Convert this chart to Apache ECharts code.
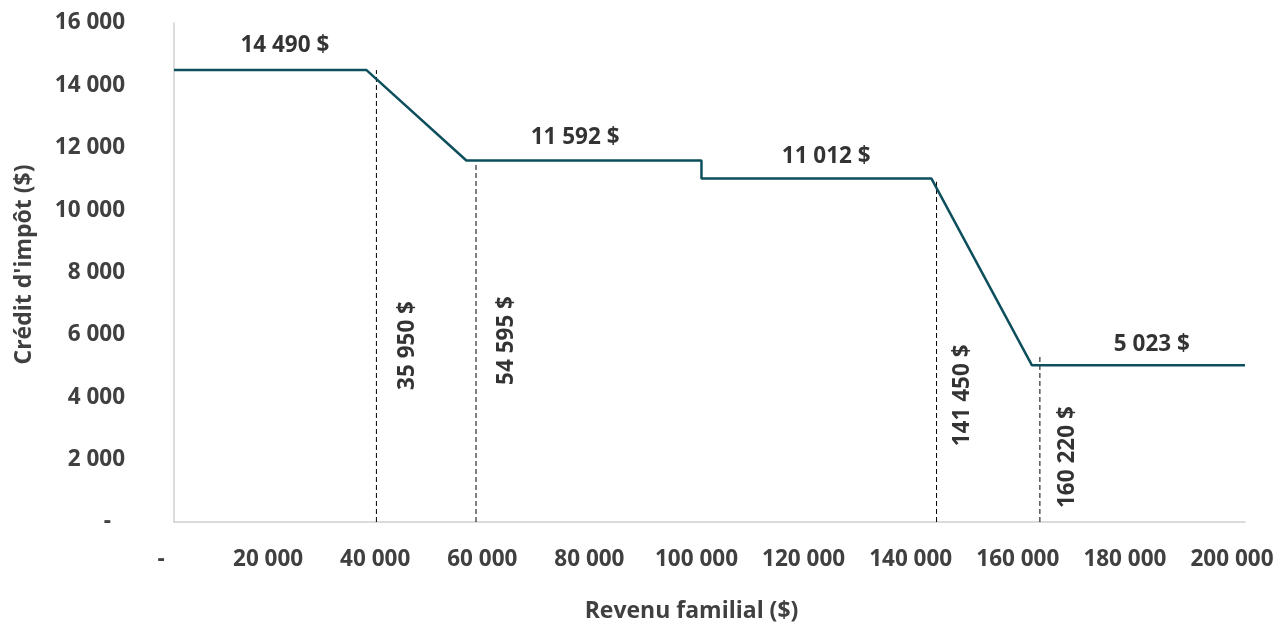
<!DOCTYPE html>
<html>
<head>
<meta charset="utf-8">
<script src="https://cdn.jsdelivr.net/npm/echarts@6/dist/echarts.min.js"></script>
<style>
html,body{margin:0;padding:0;background:#fff;}
#chart{width:1281px;height:628px;}
</style>
</head>
<body>
<div id="chart"></div>
<script>
// Tax credit curve (income $, credit $)
const incomeX = [0, 35950, 54595, 98500, 98500, 141450, 160220, 200000];
const creditY = [14490, 14490, 11592, 11592, 11012, 11012, 5023, 5023];

// Plateau value labels
const plateauLabels = ['14 490 $', '11 592 $', '11 012 $', '5 023 $'];
const plateauLabelX = [20700, 74900, 121800, 182600];
const plateauLabelY = [15260, 12320, 11710, 5700];

// Threshold dashed lines
const thresholdX = [37800, 56400, 142400, 161700];
const thresholdTop = [14490, 11550, 10910, 5300];
const thresholdLabels = ['35 950 $', '54 595 $', '141 450 $', '160 220 $'];
const thresholdLabelX = [43700, 62200, 147300, 166800];
const thresholdLabelY = [5660, 5820, 4060, 2080];

// Axes
const xTicks = [0, 20000, 40000, 60000, 80000, 100000, 120000, 140000, 160000, 180000, 200000];
const yTicks = [0, 2000, 4000, 6000, 8000, 10000, 12000, 14000, 16000];

const FONT = '"Open Sans", "Noto Sans", sans-serif';
function fmt(v) {
  if (v === 0) return '-';
  return String(v).replace(/\B(?=(\d{3})+(?!\d))/g, ' ');
}

const chart = echarts.init(document.getElementById('chart'));

const series = [];
series.push({
  type: 'line',
  data: incomeX.map((x, i) => [x, creditY[i]]),
  symbol: 'none',
  lineStyle: { color: '#0d4f5c', width: 2.5 },
  z: 3,
  silent: true
});
thresholdX.forEach((x, i) => {
  series.push({
    type: 'line',
    data: [[x, 0], [x, thresholdTop[i]]],
    symbol: 'none',
    lineStyle: { color: '#000', width: 1, type: [5, 3] },
    z: 2,
    silent: true
  });
});
series.push({
  type: 'scatter',
  symbolSize: 0,
  data: plateauLabels.map((t, i) => ({ value: [plateauLabelX[i], plateauLabelY[i]], name: t })),
  label: {
    show: true, position: 'inside', formatter: p => p.name,
    fontFamily: FONT, fontWeight: 'bold', fontSize: 22.5, color: '#000'
  },
  silent: true
});
series.push({
  type: 'scatter',
  symbolSize: 0,
  data: thresholdLabels.map((t, i) => ({ value: [thresholdLabelX[i], thresholdLabelY[i]], name: t })),
  label: {
    show: true, position: 'inside', rotate: 90, formatter: p => p.name,
    fontFamily: FONT, fontWeight: 'bold', fontSize: 22.5, color: '#000'
  },
  silent: true
});

chart.setOption({
  animation: false,
  backgroundColor: '#fff',
  grid: { left: 174, right: 36, top: 23, bottom: 103, containLabel: false },
  xAxis: {
    type: 'value',
    min: xTicks[0], max: xTicks[xTicks.length - 1], interval: 20000,
    name: 'Revenu familial ($)',
    nameLocation: 'middle',
    nameGap: 78,
    nameTextStyle: { fontFamily: FONT, fontWeight: 'bold', fontSize: 23, color: '#404040', padding: [0, 36, 0, 0] },
    axisLine: { show: true, lineStyle: { color: '#d0d0d0', width: 1.5 } },
    axisTick: { show: false },
    splitLine: { show: false },
    axisLabel: {
      margin: 26, padding: [0, 26, 0, 0],
      fontFamily: FONT, fontWeight: 'bold', fontSize: 22.5, color: '#404040',
      formatter: v => fmt(v)
    }
  },
  yAxis: {
    type: 'value',
    min: yTicks[0], max: yTicks[yTicks.length - 1], interval: 2000,
    name: "Crédit d'impôt ($)",
    nameLocation: 'middle',
    nameGap: 138,
    nameTextStyle: { fontFamily: FONT, fontWeight: 'bold', fontSize: 23, color: '#404040', padding: [0, 0, 0, 16] },
    axisLine: { show: true, lineStyle: { color: '#d0d0d0', width: 1.5 } },
    axisTick: { show: false },
    splitLine: { show: false },
    axisLabel: {
      margin: 49,
      fontFamily: FONT, fontWeight: 'bold', fontSize: 22.5, color: '#404040',
      formatter: v => v === 0 ? '{d|-}' : fmt(v),
      rich: { d: { fontFamily: FONT, fontWeight: 'bold', fontSize: 22.5, color: '#404040', padding: [0, 14, 0, 0] } }
    }
  },
  series: series
});
</script>
</body>
</html>
